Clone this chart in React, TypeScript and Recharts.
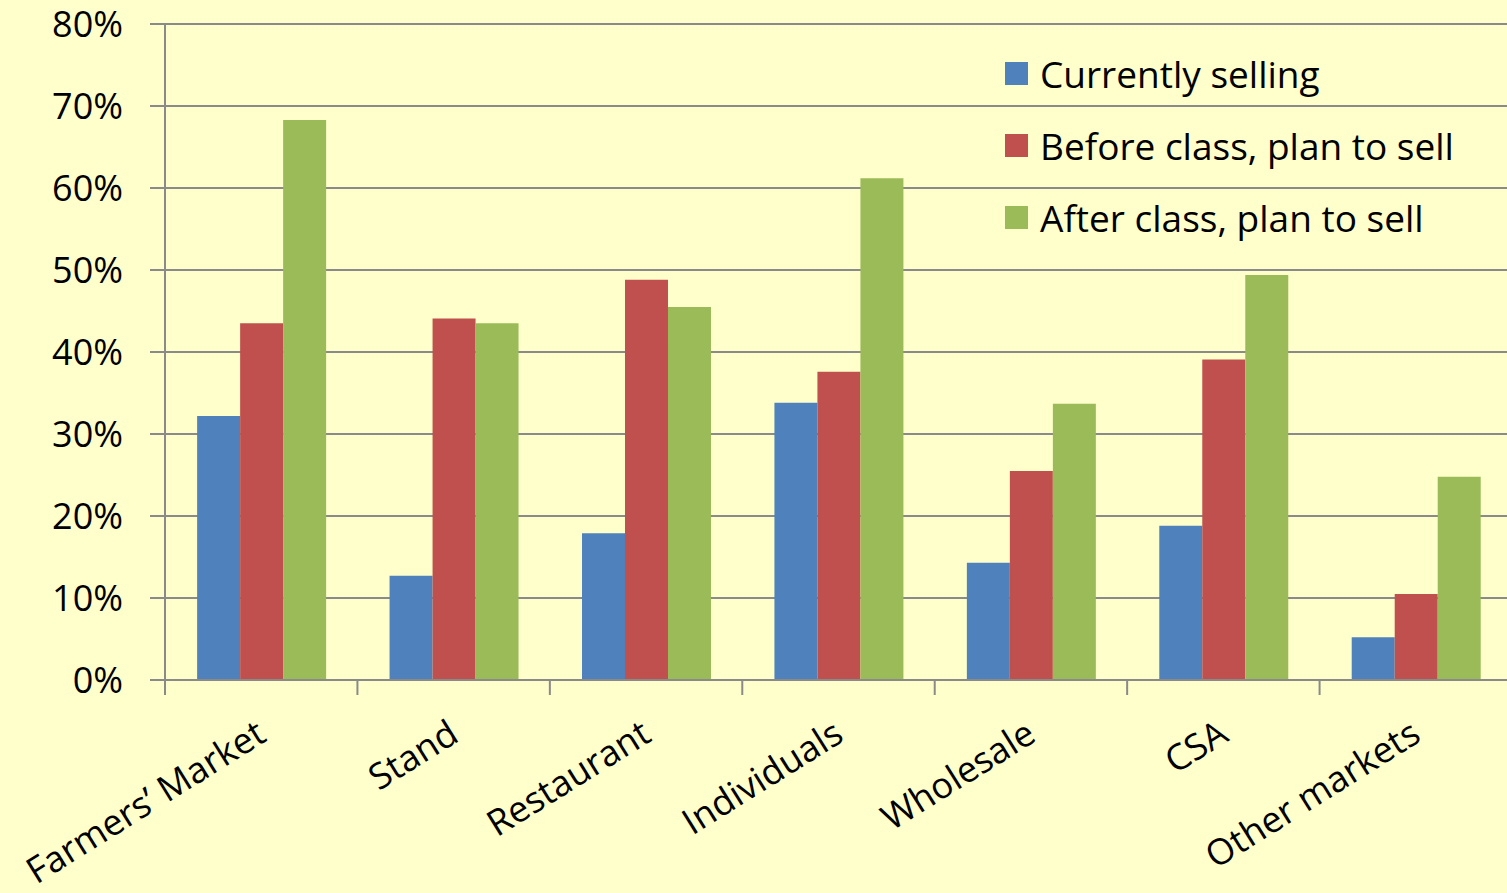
import React from 'react'
import { Bar, BarChart, CartesianGrid, XAxis, YAxis } from 'recharts'

const CATEGORIES = [
  'Farmers’ Market',
  'Stand',
  'Restaurant',
  'Individuals',
  'Wholesale',
  'CSA',
  'Other markets',
]
const CURRENTLY = [32.2, 12.7, 17.9, 33.8, 14.3, 18.8, 5.2]
const BEFORE = [43.5, 44.1, 48.8, 37.6, 25.5, 39.1, 10.5]
const AFTER = [68.3, 43.5, 45.5, 61.2, 33.7, 49.4, 24.8]
const Y_TICKS = [0, 10, 20, 30, 40, 50, 60, 70, 80]

const SERIES = [
  { key: 'currently', name: 'Currently selling', color: '#4F81BD' },
  { key: 'before', name: 'Before class, plan to sell', color: '#C0504D' },
  { key: 'after', name: 'After class, plan to sell', color: '#9BBB59' },
]

const data = CATEGORIES.map((label, i) => ({
  label,
  currently: CURRENTLY[i],
  before: BEFORE[i],
  after: AFTER[i],
}))

const FONT = '"Open Sans", Lato, sans-serif'
const GRID = '#8A8A8A'

function CategoryTick(props: any) {
  const { x, y, payload } = props
  const half = payload.offset ?? 0
  return (
    <g>
      <line x1={x - half} x2={x - half} y1={y - 8} y2={y + 7} stroke={GRID} strokeWidth={2} />
      <text
        x={x + 7}
        y={y + 52}
        transform={`rotate(-32, ${x + 7}, ${y + 52})`}
        textAnchor="end"
        fontSize={36}
        fontFamily={FONT}
        fill="#000"
      >
        {payload.value}
      </text>
    </g>
  )
}

function LegendBox() {
  return (
    <div
      style={{
        position: 'absolute',
        left: 1005,
        top: 37,
        fontFamily: FONT,
        fontSize: 37,
        color: '#000',
      }}
    >
      {SERIES.map((s) => (
        <div
          key={s.key}
          style={{ display: 'flex', alignItems: 'center', height: 72, whiteSpace: 'nowrap' }}
        >
          <span
            style={{
              width: 23,
              height: 23,
              background: s.color,
              marginRight: 12,
              display: 'inline-block',
            }}
          />
          {s.name}
        </div>
      ))}
    </div>
  )
}

export default function App() {
  return (
    <div
      style={{
        position: 'absolute',
        left: 0,
        top: 0,
        width: 1507,
        height: 893,
        background: '#FFFFCC',
        overflow: 'hidden',
      }}
    >
      <BarChart
        width={1512}
        height={893}
        data={data}
        margin={{ top: 24, right: 0, bottom: 0, left: 0 }}
        barCategoryGap="16.7%"
        barGap={0}
      >
        <CartesianGrid vertical={false} stroke={GRID} strokeWidth={2} />
        <XAxis
          dataKey="label"
          height={213}
          interval={0}
          axisLine={{ stroke: GRID, strokeWidth: 2 }}
          tickLine={false}
          tick={<CategoryTick />}
        />
        <YAxis
          width={165}
          domain={[0, 80]}
          ticks={Y_TICKS}
          tickFormatter={(v: number) => `${v}%`}
          tickSize={15}
          tickMargin={27}
          axisLine={{ stroke: GRID, strokeWidth: 2 }}
          tickLine={{ stroke: GRID, strokeWidth: 2 }}
          tick={{ fontSize: 36, fontFamily: FONT, fill: '#000' }}
        />
        {SERIES.map((s) => (
          <Bar
            key={s.key}
            dataKey={s.key}
            name={s.name}
            fill={s.color}
            isAnimationActive={false}
          />
        ))}
      </BarChart>
      <LegendBox />
    </div>
  )
}
